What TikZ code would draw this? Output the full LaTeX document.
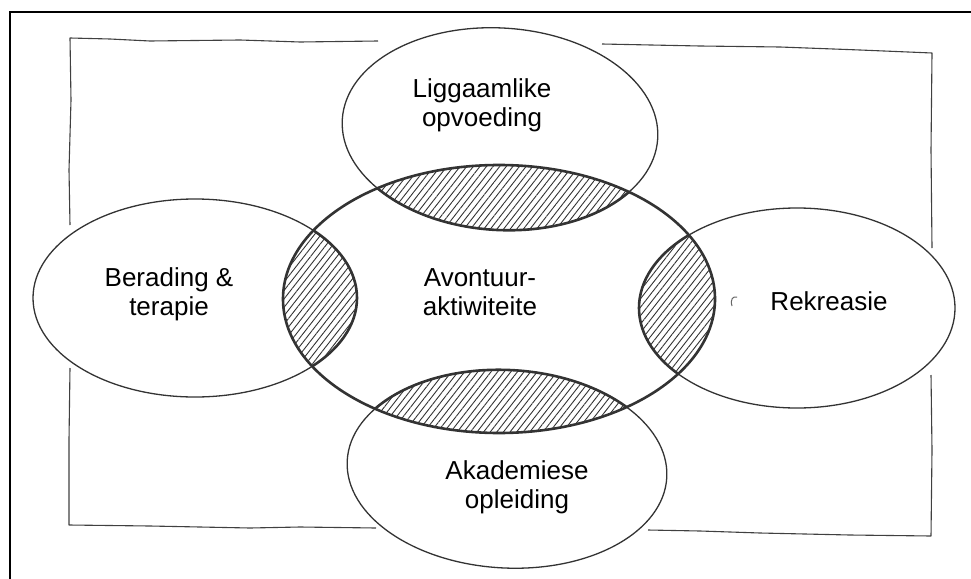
\documentclass[tikz,border=0pt]{standalone}
\usepackage{fontspec}
\setmainfont{Liberation Sans}
\usetikzlibrary{patterns.meta}
\begin{document}
\begin{tikzpicture}[x=1pt,y=-1pt,
  sk/.style={draw=black!80, line width=1.3pt},
  skr/.style={draw=black!75, line width=1.1pt, line join=round},
  bold/.style={draw=black!80, line width=2.6pt},
  lbl/.style={font=\fontsize{26}{29}\selectfont, align=center, text=black, inner sep=0pt},
  hatch/.style={pattern={Lines[angle=52,distance=5.2pt,line width=0.9pt]}, pattern color=black!80},
  frame/.style={draw=black, line width=1.6pt}]
\useasboundingbox (0,0) rectangle (971,578);
% outer border
\draw[frame] (10,580) -- (10,12) -- (973,12);
% inner hand-drawn rectangle
\draw[skr] (378,41) -- (300,42) -- (240,40) -- (150,41) -- (110,39) -- (70,38) -- (71,100) -- (69,170) -- (70,225);
\draw[skr] (602,44) -- (700,46) -- (780,47) -- (860,50) -- (932,53) -- (931,150) -- (932,248);
\draw[skr] (70,368) -- (69,440) -- (69,525) -- (150,526) -- (250,528) -- (300,527) -- (376,528);
\draw[skr] (931,375) -- (932,450) -- (931,536) -- (850,535) -- (760,533) -- (700,531) -- (648,530);
% hatched intersections
\begin{scope}
  \clip (499,299) ellipse [x radius=216, y radius=134];
  \fill[hatch, shift={(500,129)}, rotate=-3.5] (0,0) ellipse [x radius=158, y radius=101];
  \fill[hatch] (195,298) ellipse [x radius=162, y radius=99];
  \fill[hatch] (797,308) ellipse [x radius=158, y radius=100];
  \fill[hatch, shift={(507,469)}, rotate=-3] (0,0) ellipse [x radius=160, y radius=99];
  \draw[bold, shift={(500,129)}, rotate=-3.5] (0,0) ellipse [x radius=158, y radius=101];
  \draw[bold] (195,298) ellipse [x radius=162, y radius=99];
  \draw[bold] (797,308) ellipse [x radius=158, y radius=100];
  \draw[bold, shift={(507,469)}, rotate=-3] (0,0) ellipse [x radius=160, y radius=99];
\end{scope}
% outer ellipses
\draw[sk, shift={(500,129)}, rotate=-3.5] (0,0) ellipse [x radius=158, y radius=101];
\draw[sk] (195,298) ellipse [x radius=162, y radius=99];
\draw[sk] (797,308) ellipse [x radius=158, y radius=100];
\draw[sk, shift={(507,469)}, rotate=-3] (0,0) ellipse [x radius=160, y radius=99];
% central ellipse
\draw[bold] (499,299) ellipse [x radius=216, y radius=134];
% small stray mark
\draw[black!60, line width=1pt] (732,306) .. controls (730,299) and (733,296) .. (737,297);
% labels
\node[lbl, anchor=base] (top) at (482,126) {Liggaamlike\\opvoeding};
\node[lbl, anchor=base] (left) at (169,315) {Berading \&\\terapie};
\node[lbl, anchor=base] (mid) at (480,315) {Avontuur-\\aktiwiteite};
\node[lbl, anchor=base] (right) at (829,310) {Rekreasie};
\node[lbl, anchor=base] (bottom) at (517,508) {Akademiese\\opleiding};
\end{tikzpicture}
\end{document}
